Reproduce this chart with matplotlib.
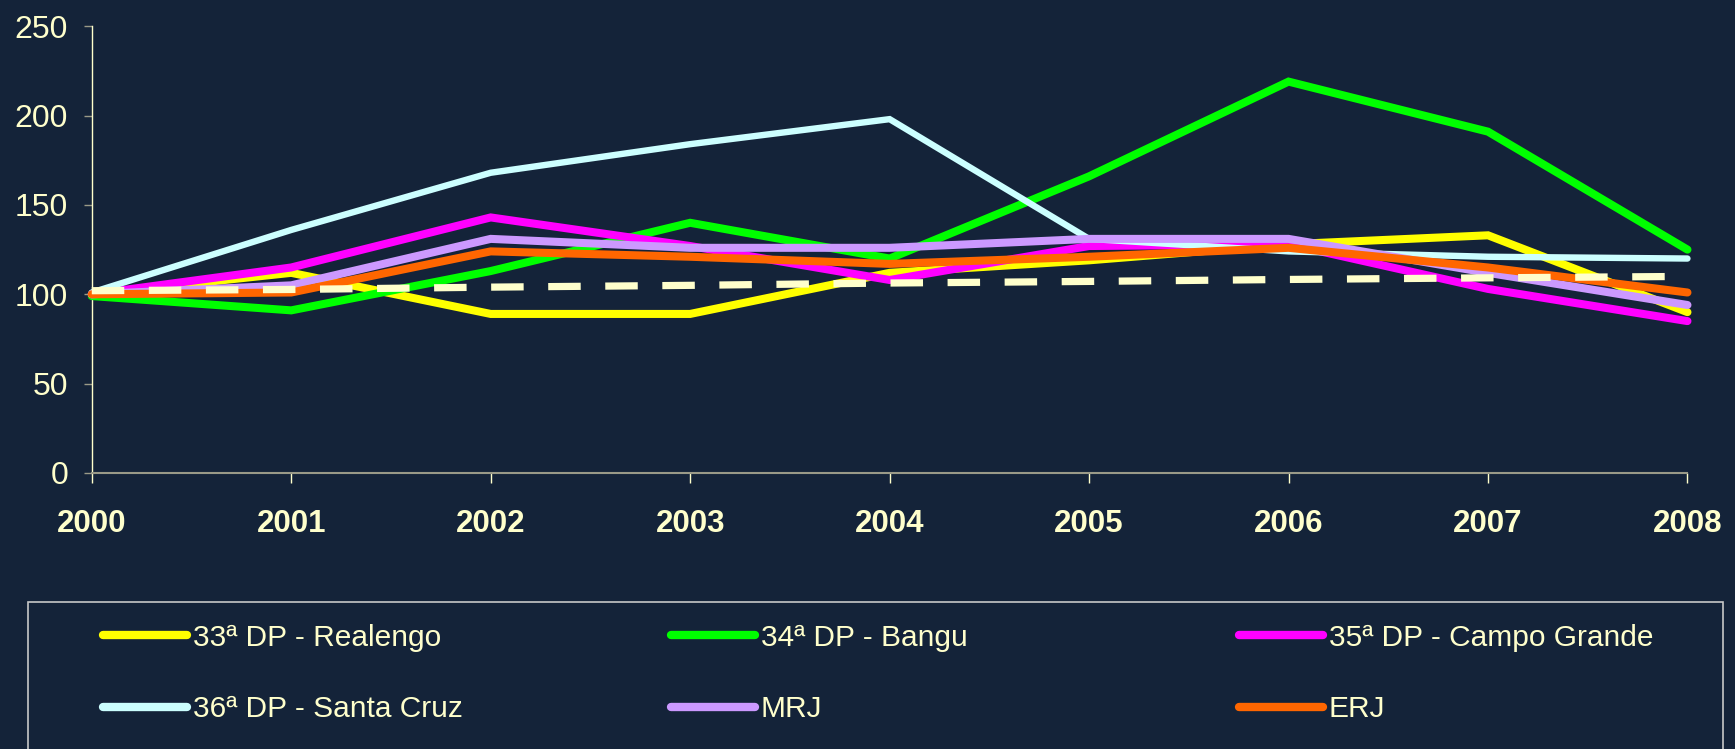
import matplotlib
matplotlib.use("Agg")
import matplotlib.pyplot as plt
from matplotlib.lines import Line2D
from matplotlib.patches import Rectangle

years = [2000, 2001, 2002, 2003, 2004, 2005, 2006, 2007, 2008]

realengo_33 = [100, 112, 89, 89, 112, 119, 128, 133, 90]
bangu_34 = [99, 91, 113, 140, 120, 166, 219, 191, 125]
campo_grande_35 = [100, 115, 143, 127, 108, 127, 128, 103, 85]
santa_cruz_36 = [101, 136, 168, 184, 198, 131, 124, 121, 120]
mrj = [100, 105, 131, 126, 126, 131, 131, 112, 94]
erj = [100, 101, 124, 121, 117, 121, 126, 115, 101]
dashed_ref = [102, 102.7, 104, 105, 106.3, 107.2, 108.3, 109.2, 110]

labels = ["33ª DP - Realengo", "34ª DP - Bangu", "35ª DP - Campo Grande",
          "36ª DP - Santa Cruz", "MRJ", "ERJ"]
y_ticks = [0, 50, 100, 150, 200, 250]

BG = "#142339"
CREAM = "#FFFFCC"
colors = ["#FFFF00", "#00FF00", "#FF00FF", "#CCFFFF", "#CC99FF", "#FF6600"]
series = [realengo_33, bangu_34, campo_grande_35, santa_cruz_36, mrj, erj]
widths = [5.8, 5.8, 5.8, 4.6, 5.8, 5.8]

plt.rcParams['font.family'] = ['Liberation Sans', 'DejaVu Sans']

fig = plt.figure(figsize=(17.35, 7.49), dpi=100, facecolor=BG)
ax = fig.add_axes([0.0529, 0.3685, 0.9726 - 0.0529, 0.965 - 0.3685])
ax.set_facecolor(BG)

for vals, c, lw in zip(series, colors, widths):
    ax.plot(years, vals, color=c, lw=lw, solid_capstyle='round',
            solid_joinstyle='miter', clip_on=False, zorder=3)

ax.plot(years, dashed_ref, color=CREAM, lw=5.2, dashes=(4.5, 3.4),
        dash_capstyle='butt', clip_on=False, zorder=4)

ax.set_xlim(2000, 2008)
ax.set_ylim(0, 250)
ax.set_xticks(years)
ax.set_xticklabels([str(y) for y in years], fontsize=22.5, fontweight='bold', color=CREAM)
ax.set_yticks(y_ticks)
ax.set_yticklabels([str(v) for v in y_ticks], fontsize=23, color=CREAM)

for s in ['top', 'right']:
    ax.spines[s].set_visible(False)
ax.spines['left'].set_color(CREAM)
ax.spines['left'].set_linewidth(1.0)
ax.spines['bottom'].set_color('#9A9A88')
ax.spines['bottom'].set_linewidth(1.5)
ax.tick_params(axis='x', direction='out', length=7.2, width=1.0, color=CREAM, pad=19)
ax.tick_params(axis='y', direction='out', length=5.5, width=1.0, color='#9A9A88', pad=11.5)

# legend frame
fig.patches.append(Rectangle((27.7 / 1735, -0.01), (1723 - 27.7) / 1735, 0.1963 + 0.01,
                             transform=fig.transFigure, facecolor=BG,
                             edgecolor='#C8C8C8', lw=1.2, zorder=0))

col_x = [103 / 1735, 671 / 1735, 1239 / 1735]
row_y = [1 - 637.5 / 749, 1 - 709 / 749]
positions = [(col_x[0], row_y[0]), (col_x[1], row_y[0]), (col_x[2], row_y[0]),
             (col_x[0], row_y[1]), (col_x[1], row_y[1]), (col_x[2], row_y[1])]
for lab, c, (px, py) in zip(labels, colors, positions):
    h = Line2D([], [], color=c, lw=6, solid_capstyle='round')
    fig.legend(handles=[h], labels=[lab], loc='center left', bbox_to_anchor=(px, py),
               bbox_transform=fig.transFigure, frameon=False, fontsize=21.5,
               labelcolor=CREAM, handlelength=2.8, handletextpad=0.2,
               borderpad=0, borderaxespad=0)

fig.savefig("out.png", dpi=100, facecolor=BG)
